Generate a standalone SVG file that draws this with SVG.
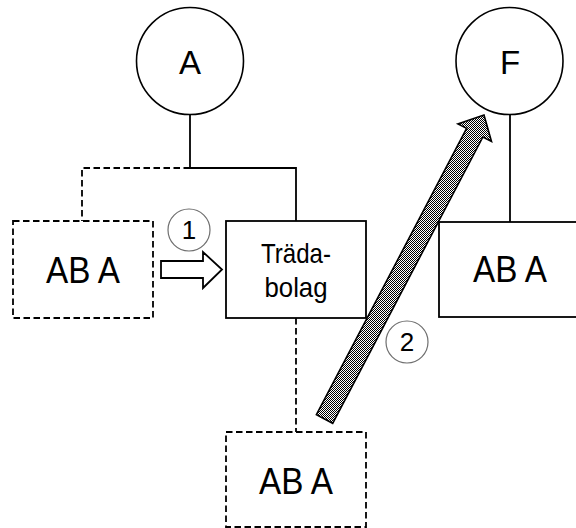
<svg xmlns="http://www.w3.org/2000/svg" width="576" height="528" viewBox="0 0 576 528">
  <style>
    .solid { fill: none; stroke: #000; stroke-width: 1.8; }
    .dash { fill: none; stroke: #000; stroke-width: 1.8; stroke-dasharray: 6.5 3.5; }
    .box { fill: #fff; stroke: #000; stroke-width: 1.8; }
    .dbox { fill: #fff; stroke: #000; stroke-width: 1.8; stroke-dasharray: 6.5 3.5; }
    .owner { fill: #fff; stroke: #000; stroke-width: 1.6; }
    .step { fill: #fff; stroke: #6e6e6e; stroke-width: 1.2; }
    text { font-family: "Liberation Sans", Arial, sans-serif; fill: #000; text-anchor: middle; }
    .letter { font-size: 33px; }
    .big { font-size: 37px; }
    .mid { font-size: 28px; }
    .num { font-size: 26px; }
  </style>
  <defs>
    <!-- fine checker fill for the transfer arrow -->
    <pattern id="checker" width="2" height="2" patternUnits="userSpaceOnUse">
      <rect width="2" height="2" fill="#fff"/>
      <rect width="1" height="1" fill="#000"/>
      <rect x="1" y="1" width="1" height="1" fill="#000"/>
    </pattern>
  </defs>

  <!-- connectors -->
  <g id="connectors">
    <line class="solid" x1="190" y1="115" x2="190" y2="168"/>
    <polyline class="solid" points="190,168 296,168 296,221"/>
    <polyline class="dash" points="190,168 82,168 82,221"/>
    <line class="dash" x1="296" y1="318" x2="296" y2="432"/>
    <line class="solid" x1="510" y1="115" x2="510" y2="222"/>
  </g>

  <g id="owner-a">
    <circle class="owner" cx="190" cy="61" r="53.5"/>
    <text class="letter" x="190" y="74">A</text>
  </g>

  <g id="owner-f">
    <circle class="owner" cx="509.5" cy="61" r="53.5"/>
    <text class="letter" x="510" y="74">F</text>
  </g>

  <g id="ab-a-left">
    <rect class="dbox" x="13" y="221" width="140" height="97"/>
    <text class="big" x="83" y="283" textLength="74" lengthAdjust="spacingAndGlyphs">AB A</text>
  </g>

  <g id="tradabolag">
    <rect class="box" x="226" y="221" width="140" height="97"/>
    <text class="mid" x="296" y="263" textLength="70" lengthAdjust="spacingAndGlyphs">Träda-</text>
    <text class="mid" x="296" y="297" textLength="63" lengthAdjust="spacingAndGlyphs">bolag</text>
  </g>

  <g id="ab-a-right">
    <rect class="box" x="439" y="222" width="140" height="95"/>
    <text class="big" x="510" y="282" textLength="74" lengthAdjust="spacingAndGlyphs">AB A</text>
  </g>

  <g id="ab-a-bottom">
    <rect class="dbox" x="226" y="432" width="140" height="95"/>
    <text class="big" x="296" y="494" textLength="74" lengthAdjust="spacingAndGlyphs">AB A</text>
  </g>

  <!-- step 1: transfer into the shelf company -->
  <g id="step-1">
    <polygon class="box" points="161,261 203,261 203,252 222,269.5 203,288 203,278 161,278"/>
    <circle class="step" cx="189" cy="230" r="21"/>
    <text class="num" x="189" y="239">1</text>
  </g>

  <!-- step 2: sale of the shelf company to F -->
  <g id="step-2">
    <polygon points="316.4,414.7 466.6,128.4 457.9,123.9 484,115 491.5,141.5 482.9,137 332.7,423.3" fill="url(#checker)" stroke="#000" stroke-width="1.6"/>
    <circle class="step" cx="407" cy="342" r="21"/>
    <text class="num" x="407" y="351">2</text>
  </g>
</svg>
